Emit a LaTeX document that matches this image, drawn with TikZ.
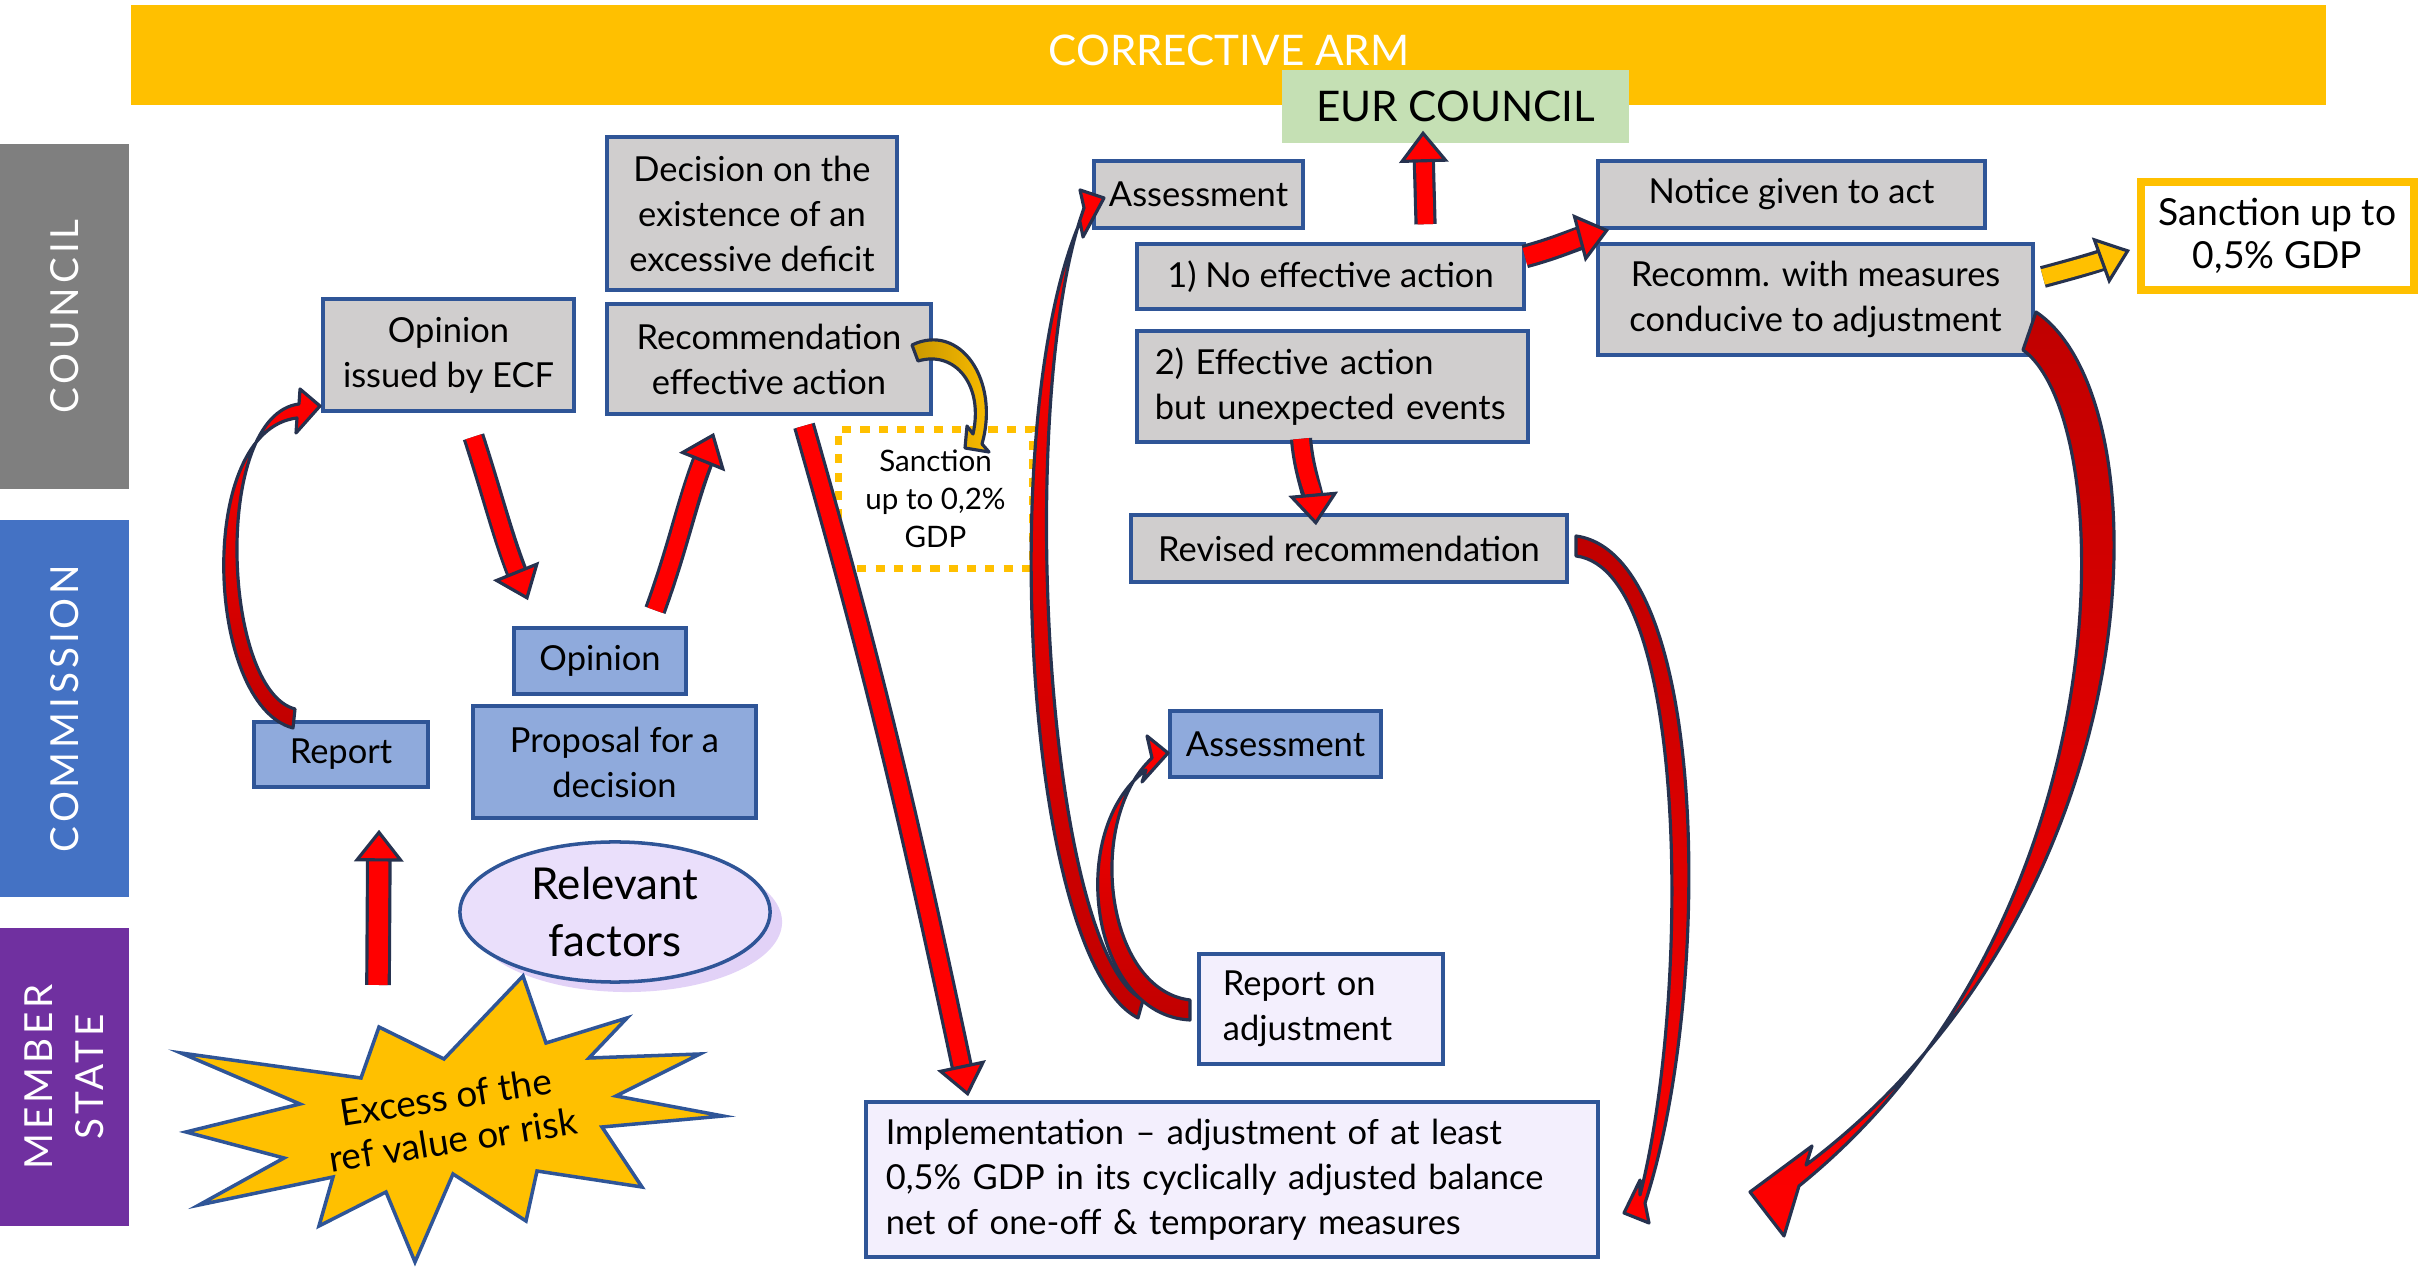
\documentclass[tikz,border=0pt]{standalone}
\usepackage{fontspec}
\setmainfont{Lato}
\newfontfamily\spacedfont[LetterSpace=10]{Lato}
\usetikzlibrary{arrows.meta,calc,shapes.geometric}
\definecolor{banner}{HTML}{FFC000}
\definecolor{eurgreen}{HTML}{C5E0B4}
\definecolor{labgray}{HTML}{7F7F7F}
\definecolor{labblue}{HTML}{4472C4}
\definecolor{labpurple}{HTML}{7030A0}
\definecolor{cgray}{HTML}{D0CECE}
\definecolor{cblue}{HTML}{8FAADC}
\definecolor{clav}{HTML}{F3EFFD}
\definecolor{relfill}{HTML}{EADFFB}
\definecolor{relshadow}{HTML}{E2D2F7}
\definecolor{boxline}{HTML}{2F5597}
\definecolor{arrred}{HTML}{FF0000}
\definecolor{arrdark}{HTML}{C00000}
\definecolor{arrline}{HTML}{26324F}
\definecolor{ydark}{HTML}{C99700}
\begin{document}
\begin{tikzpicture}[x=0.01cm, y=-0.01cm,
  box/.style={draw=boxline, line width=1pt, inner sep=0pt, align=center, font=\fontsize{9.8}{12.8}\selectfont},
  cbox/.style={box, fill=cgray},
  mbox/.style={box, fill=cblue},
  lbox/.style={box, fill=clav},
  sz/.style n args={2}{minimum width=#1cm, minimum height=#2cm},
  labbar/.style={text=white, rotate=90, inner sep=0pt, align=center, font=\spacedfont\fontsize{11}{14.5}\selectfont},
  fat/.style n args={2}{draw=#2, line width=#1,
     preaction={draw=arrline, line width=#1+1.8pt, arrows=-, shorten >=5pt},
     -{Triangle[length=9pt, width=14pt, fill=#2, color=arrline, line width=0.9pt]}},
  taper/.style={draw=arrline, line width=0.9pt, line join=round}
]
\useasboundingbox (0,0) rectangle (2433,1268);

% banner and side labels
\node[fill=banner, minimum width=21.93cm, minimum height=1cm, inner sep=0pt] (banner) at (1228.5,55) {};
\node[text=white, inner sep=0pt, font=\fontsize{12}{14}\selectfont] (bannertext) at (1229,50) {CORRECTIVE ARM};
\node[fill=eurgreen, sz={3.47}{0.73}, inner sep=0pt, font=\fontsize{12}{14}\selectfont] (eur) at (1455.5,106.5) {EUR COUNCIL};
\node[labbar, fill=labgray, minimum width=3.45cm, minimum height=1.29cm] (lcouncil) at (64.5,316.5) {COUNCIL};
\node[labbar, fill=labblue, minimum width=3.77cm, minimum height=1.29cm] (lcomm) at (64.5,708.5) {COMMISSION};
\node[labbar, fill=labpurple, minimum width=2.98cm, minimum height=1.29cm] (lmember) at (64.5,1077) {MEMBER\\STATE};

% council boxes
\node[cbox, sz={2.51}{1.12}] (opecf) at (448.5,355) {Opinion\\issued by ECF};
\node[cbox, sz={2.90}{1.53}] (decision) at (752,213.5) {Decision on the\\existence of an\\excessive deficit};
\node[cbox, sz={3.24}{1.10}] (recom) at (769,359) {Recommendation\\effective action};
\node[draw=banner, line width=2pt, dash pattern=on 2.6pt off 2.6pt, sz={1.93}{1.38}, align=center,
      inner sep=0pt, font=\fontsize{8.4}{10.8}\selectfont] (sanc02) at (935.5,499) {Sanction\\up to 0,2\%\\GDP};
\node[cbox, sz={2.09}{0.67}] (assess1) at (1198.5,194.5) {Assessment};
\node[cbox, sz={3.87}{0.65}] (noeff) at (1330.5,276.5) {1) No effective action};
\node[cbox, sz={3.91}{1.11}, text width=3.55cm, align=left] (effev) at (1332.5,386.5) {2) Effective action\\but unexpected events};
\node[cbox, sz={3.87}{0.67}] (notice) at (1791.5,194.5) {Notice given to act};
\node[cbox, sz={4.35}{1.11}] (recomm2) at (1815.5,299.5) {Recomm. with measures\\conducive to adjustment};
\node[box, fill=white, draw=banner, line width=2.2pt, sz={2.73}{1.08}, font=\fontsize{10.6}{12.3}\selectfont] (sanc05) at (2277.5,236) {Sanction up to\\0,5\% GDP};
\node[cbox, sz={4.36}{0.67}] (revrec) at (1349,548.5) {Revised recommendation};

% commission boxes
\node[mbox, sz={1.72}{0.66}] (opcom) at (600,661) {Opinion};
\node[mbox, sz={2.83}{1.12}] (proposal) at (614.5,762) {Proposal for a\\decision};
\node[mbox, sz={1.74}{0.65}] (report) at (341,754.5) {Report};
\node[mbox, sz={2.11}{0.66}] (assess2) at (1275.5,744) {Assessment};

% member state
\node[lbox, sz={2.44}{1.10}, text width=1.96cm, align=left] (repadj) at (1321,1009) {Report on\\adjustment};
\node[lbox, sz={7.32}{1.55}, text width=6.92cm, align=left] (impl) at (1232,1179.5) {Implementation – adjustment of at least\\0,5\% GDP in its cyclically adjusted balance\\net of one-off \& temporary measures};
\node[ellipse, fill=relshadow, minimum width=3.1cm, minimum height=1.4cm] (relsh) at (627,922) {};
\node[ellipse, draw=boxline, line width=1pt, fill=relfill, minimum width=3.1cm, minimum height=1.4cm,
      inner sep=0pt, align=center, font=\fontsize{12.5}{16.2}\selectfont] (relf) at (615,912) {Relevant\\factors};
\filldraw[fill=banner, draw=boxline, line width=1pt, line join=miter]
  (523,976) -- (546,1043) -- (627,1018) -- (589,1058) -- (700,1054) -- (616,1096) -- (723,1116)
  -- (602,1127) -- (642,1187) -- (537,1171) -- (526,1221) -- (453,1174) -- (415,1262) -- (386,1192)
  -- (319,1226) -- (333,1177) -- (199,1205) -- (284,1158) -- (186,1132) -- (300,1104) -- (181,1053)
  -- (361,1078) -- (379,1027) -- (444,1059) -- cycle;
\node[rotate=9, inner sep=0pt, font=\fontsize{10.5}{12.5}\selectfont] (excess1) at (446,1097) {Excess of the};
\node[rotate=9, inner sep=0pt, font=\fontsize{10.5}{12.5}\selectfont] (excess2) at (453,1140) {ref value or risk};
\coordinate (starN) at (378,985);

% straight fat arrows
\draw[fat={4.5pt}{arrred}] ([xshift=0.25cm,yshift=-0.24cm]opecf.south) to[out=-72,in=112] ([xshift=-0.72cm,yshift=0.26cm]opcom.north);
\draw[fat={4.5pt}{arrred}] ([xshift=0.55cm,yshift=0.16cm]opcom.north) to[out=70,in=-112] ([xshift=-0.55cm,yshift=-0.17cm]recom.south);
\draw[fat={4.5pt}{arrred}] ([xshift=0.35cm,yshift=-0.10cm]recom.south) to[out=-74,in=102] ([xshift=1.04cm,yshift=0.04cm]impl.north west);
\draw[fat={5.5pt}{arrred}] (starN) -- ([xshift=0.38cm,yshift=-0.41cm]report.south);
\draw[fat={4.5pt}{arrred}] ([xshift=0.95cm,yshift=0.18cm]noeff.north) -- ([xshift=-0.325cm,yshift=0.13cm]eur.south);
\draw[fat={5pt}{arrred}] ([xshift=-0.01cm,yshift=0.2cm]noeff.east) to[out=15,in=195] ([xshift=0.13cm]notice.south west);
\draw[fat={4.5pt}{banner}] ([xshift=0.08cm,yshift=0.225cm]recomm2.east) to[out=15,in=200] ([xshift=-0.07cm,yshift=-0.14cm]sanc05.west);
\draw[fat={4.5pt}{arrred}] ([xshift=-0.315cm,yshift=0.05cm]effev.south) to[out=-85,in=95] ([xshift=-0.33cm,yshift=-0.12cm]revrec.north);

% tapered curved arrows
% report -> opinion ECF
\shadedraw[taper, top color=arrred, bottom color=arrdark]
  (293,728) .. controls (205,705) and (195,430) .. (297,418) -- (296,433) -- (320,406) -- (300,389)
  -- (299,404) .. controls (212,415) and (222,690) .. (295,709) -- cycle;
% recommendation -> sanction 0,2
\shadedraw[taper, left color=ydark, right color=banner]
  (912,345) .. controls (960,322) and (1000,380) .. (982,444) -- (989,452) -- (965,448) -- (967,426)
  -- (973,434) .. controls (984,385) and (955,350) .. (918,361) -- cycle;
% report on adjustment -> assessment (top)
\shadedraw[taper, top color=arrred, bottom color=arrdark]
  (1138,1018) .. controls (1025,960) and (995,420) .. (1080,222) -- (1083,237) -- (1104,198) -- (1080,190)
  -- (1084,208) .. controls (1015,400) and (1045,950) .. (1143,1000) -- cycle;
% report on adjustment -> assessment (lower)
\shadedraw[taper, top color=arrred, bottom color=arrdark]
  (1190,1020) .. controls (1090,1015) and (1065,830) .. (1146,770) -- (1142,782) -- (1168,753) -- (1147,736)
  -- (1152,758) .. controls (1085,820) and (1105,990) .. (1190,1000) -- cycle;
% revised recommendation -> implementation
\shadedraw[taper, top color=arrdark, bottom color=arrred]
  (1576,536) .. controls (1712,555) and (1712,1000) .. (1645,1203) -- (1649,1223) -- (1624,1213) -- (1640,1180)
  -- (1640,1195) .. controls (1690,1000) and (1690,570) .. (1576,556) -- cycle;
% recomm. with measures -> implementation
\shadedraw[taper, top color=arrdark, bottom color=arrred]
  (2036,312) .. controls (2168,400) and (2158,900) .. (1806,1165) -- (1812,1146) -- (1750,1192) -- (1784,1236)
  -- (1799,1186) .. controls (2128,920) and (2120,420) .. (2023,350) -- cycle;
\end{tikzpicture}
\end{document}
